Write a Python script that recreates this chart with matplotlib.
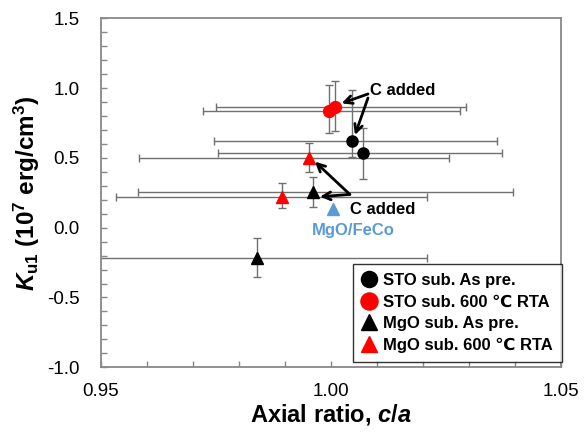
import numpy as np
import matplotlib
matplotlib.use("Agg")
import matplotlib.pyplot as plt
from matplotlib.ticker import MultipleLocator

plt.rcParams['font.family'] = ['Liberation Sans', 'DejaVu Sans']
plt.rcParams['mathtext.fontset'] = 'custom'
plt.rcParams['mathtext.rm'] = 'Liberation Sans:bold'
plt.rcParams['mathtext.it'] = 'Liberation Sans:italic:bold'
plt.rcParams['mathtext.bf'] = 'Liberation Sans:bold'

# data: c/a, Ku1, and error bar limits (lo, hi)
sto_as_x = [1.00457, 1.0071]
sto_as_y = [0.619, 0.537]
sto_as_xlo = [0.97457, 0.97543]
sto_as_xhi = [1.03615, 1.03724]
sto_as_ylo = [0.51, 0.347]
sto_as_yhi = [0.986, 0.712]

sto_rta_x = [0.9997, 1.0009]
sto_rta_y = [0.838, 0.867]
sto_rta_xlo = [0.9723, 0.97507]
sto_rta_xhi = [1.02817, 1.02935]
sto_rta_ylo = [0.676, 0.693]
sto_rta_yhi = [1.024, 1.053]

mgo_as_x = [0.99622, 0.9839]
mgo_as_y = [0.258, -0.219]
mgo_as_xlo = [0.95817, 0.9468]
mgo_as_xhi = [1.03963, 1.02087]
mgo_as_ylo = [0.150, -0.351]
mgo_as_yhi = [0.365, -0.076]

mgo_rta_x = [0.99535, 0.98935]
mgo_rta_y = [0.497, 0.222]
mgo_rta_xlo = [0.95826, 0.95333]
mgo_rta_xhi = [1.02572, 1.02087]
mgo_rta_ylo = [0.401, 0.139]
mgo_rta_yhi = [0.609, 0.318]

feco_x = [1.00057]
feco_y = [0.132]

labels = ['STO sub. As pre.', 'STO sub. 600 \u2103 RTA',
          'MgO sub. As pre.', 'MgO sub. 600 \u2103 RTA']

fig = plt.figure(figsize=(5.84, 4.32), dpi=100)
ax = fig.add_axes([0.1724, 0.1498, 0.7876, 0.8078])

def err(v, lo, hi):
    v = np.array(v); return [v - np.array(lo), np.array(hi) - v]

series = [
    (sto_as_x, sto_as_y, sto_as_xlo, sto_as_xhi, sto_as_ylo, sto_as_yhi, 'o', 'black', 8),
    (sto_rta_x, sto_rta_y, sto_rta_xlo, sto_rta_xhi, sto_rta_ylo, sto_rta_yhi, 'o', 'red', 8.5),
    (mgo_as_x, mgo_as_y, mgo_as_xlo, mgo_as_xhi, mgo_as_ylo, mgo_as_yhi, '^', 'black', 8),
    (mgo_rta_x, mgo_rta_y, mgo_rta_xlo, mgo_rta_xhi, mgo_rta_ylo, mgo_rta_yhi, '^', 'red', 8),
]
handles = []
for (x, y, xlo, xhi, ylo, yhi, m, c, ms), lab in zip(series, labels):
    ax.errorbar(x, y, xerr=err(x, xlo, xhi), yerr=err(y, ylo, yhi), fmt='none',
                ecolor='#707070', elinewidth=1, capsize=3, capthick=1, zorder=2)
    h, = ax.plot(x, y, linestyle='none', marker=m, color=c, markersize=ms, zorder=3, label=lab)
    handles.append(h)

ax.plot(feco_x, feco_y, linestyle='none', marker='^', color='#5b9bd5', markersize=8, zorder=3)

ax.set_xlim(0.95, 1.05)
ax.set_ylim(-1.0, 1.5)
ax.set_xticks([0.95, 1.00, 1.05])
ax.set_xticklabels(['0.95', '1.00', '1.05'])
ax.set_yticks([-1.0, -0.5, 0.0, 0.5, 1.0, 1.5])
ax.set_yticklabels(['-1.0', '-0.5', '0.0', '0.5', '1.0', '1.5'])
ax.xaxis.set_minor_locator(MultipleLocator(0.01))
ax.yaxis.set_minor_locator(MultipleLocator(0.1))
ax.tick_params(which='both', direction='in', length=4, width=1, color='#888888',
               top=False, right=False, labelsize=13.5)
ax.tick_params(axis='y', pad=15)
ax.tick_params(axis='x', pad=11)
for s in ax.spines.values():
    s.set_color('#888888')
    s.set_linewidth(1.3)

ax.set_xlabel('Axial ratio, $c$/$a$', fontsize=17, fontweight='bold', labelpad=2)
ax.set_ylabel(r'$K_{\mathbf{u1}}$ (10$^{\mathbf{7}}$ erg/cm$^{\mathbf{3}}$)',
              fontsize=17.5, fontweight='bold', labelpad=4)

arrow = dict(arrowstyle='->', lw=2, color='black', mutation_scale=14, shrinkA=0, shrinkB=0)
ax.text(1.00855, 0.981, 'C added', fontsize=12, fontweight='bold', va='center', ha='left')
ax.annotate('', xy=(1.00239, 0.891), xytext=(1.00811, 0.958), arrowprops=arrow)
ax.annotate('', xy=(1.00528, 0.664), xytext=(1.00811, 0.929), arrowprops=arrow)
ax.text(1.00417, 0.127, 'C added', fontsize=12, fontweight='bold', va='center', ha='left')
ax.annotate('', xy=(0.99659, 0.473), xytext=(1.00417, 0.2385), arrowprops=arrow)
ax.annotate('', xy=(0.99768, 0.222), xytext=(1.00417, 0.2385), arrowprops=arrow)
ax.text(1.00491, -0.0165, 'MgO/FeCo', fontsize=12, fontweight='bold', color='#5b9bd5',
        va='center', ha='center')

leg = ax.legend(handles=handles, loc='lower right', fontsize=12, frameon=True, fancybox=False,
                edgecolor='black', handlelength=0.8, handletextpad=0.45, labelspacing=0.4,
                borderpad=0.55, markerscale=1.45, borderaxespad=0,
                bbox_to_anchor=(1.003, 0.014))
leg.get_frame().set_linewidth(1.0)
for t in leg.get_texts():
    t.set_fontweight('bold')

fig.savefig('out.png', dpi=100)
